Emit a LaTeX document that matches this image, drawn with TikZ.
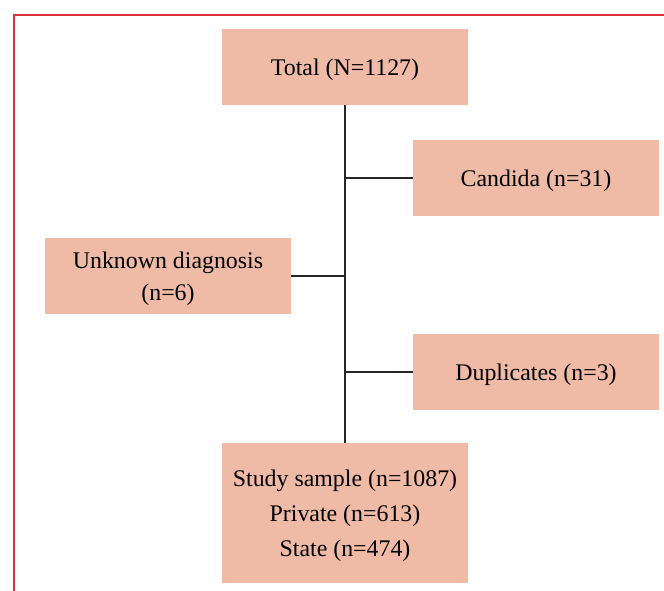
\documentclass[tikz,border=0pt]{standalone}
\usepackage{fontspec}
\setmainfont{Liberation Serif}
\usetikzlibrary{positioning,calc}
\definecolor{boxfill}{RGB}{239,187,166}
\definecolor{frame}{RGB}{220,48,58}

\begin{document}
\begin{tikzpicture}[x=0.75pt,y=-0.75pt,font=\fontsize{17.9}{25.5}\selectfont,
      box/.style={fill=boxfill,align=center,minimum width=184pt,minimum height=57pt,inner sep=0pt,text depth=0pt},
      link/.style={draw=black!85,line width=1.2pt}]
    \useasboundingbox (0,0) rectangle (664,591);
    \draw[frame,line width=1.6pt] (14,591) -- (14,15) -- (664,15);
    \node[box] (total) at (345,67) {Total (N=1127)};
    \node[box] (candida) at (536,178) {Candida (n=31)};
    \node[box,font=\fontsize{17.9}{24}\selectfont] (unknown) at (168,276) {Unknown diagnosis\\(n=6)};
    \node[box] (dupl) at (536,372) {Duplicates (n=3)};
    \node[box,minimum height=105pt,font=\fontsize{17.9}{26.3}\selectfont] (study) at (345,513) {Study sample (n=1087)\\Private (n=613)\\State (n=474)};
    \draw[link] (total.south) -- (study.north);
    \draw[link] (candida.west) -- (candida.west -| total.south);
    \draw[link] (unknown.east) -- (unknown.east -| total.south);
    \draw[link] (dupl.west) -- (dupl.west -| total.south);
  \end{tikzpicture}
\end{document}
